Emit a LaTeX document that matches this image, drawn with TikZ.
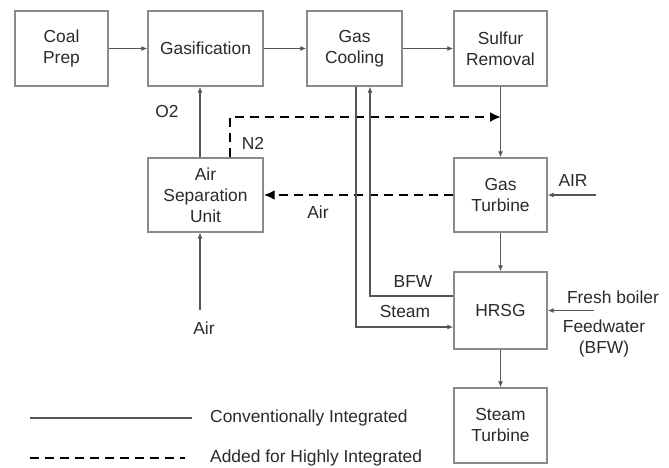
\documentclass[tikz,border=0pt]{standalone}
\usepackage{fontspec}
\setmainfont{Liberation Sans}
\usetikzlibrary{arrows.meta}
\definecolor{boxc}{HTML}{8A8A8A}
\definecolor{linec}{HTML}{555555}
\definecolor{txtc}{HTML}{2A2A2A}
\begin{document}
\begin{tikzpicture}[x=1pt,y=-1pt,
  font=\fontsize{17.4}{21}\selectfont, text=txtc,
  box/.style={draw=boxc, line width=1.4pt, align=center, inner sep=0pt, minimum width=93pt, minimum height=75pt},
  arr/.style={draw=linec, line width=1.1pt, -{Latex[length=6pt,width=5pt]}},
  plain/.style={draw=linec, line width=1.1pt},
  darr/.style={draw=black, line width=2.4pt, dash pattern=on 9pt off 6pt, -{Latex[length=11pt,width=10pt]}},
  dplain/.style={draw=black, line width=2.4pt, dash pattern=on 9pt off 6pt},
  lab/.style={inner sep=0pt}]
\useasboundingbox (0,0) rectangle (669,468);
\fill[white] (0,0) rectangle (669,468);

\node[box] (coal) at (61.5,48.5) {Coal\\Prep};
\node[box, minimum width=115pt] (gasif) at (205.5,48.5) {Gasification};
\node[box, minimum width=95pt] (cool) at (354.5,48.5) {Gas\\Cooling};
\node[box] (sulf) at (500.5,48.5) {Sulfur\\Removal};
\node[box, minimum width=115pt, minimum height=74pt] (asu) at (205.5,195) {Air\\Separation\\Unit};
\node[box, minimum height=74pt] (gt) at (500.5,195) {Gas\\Turbine};
\node[box, minimum height=77pt] (hrsg) at (500.5,310.5) {HRSG};
\node[box] (st) at (500.5,425.5) {Steam\\Turbine};

% top row
\draw[arr] (coal) -- (gasif);
\draw[arr] (gasif) -- (cool);
\draw[arr] (cool) -- (sulf);
% vertical chain
\draw[arr] (sulf) -- (gt);
\draw[arr] (gt) -- (hrsg);
\draw[arr] (hrsg) -- (st);
% ASU
\draw[arr] ([xshift=-5.5pt]asu.north) -- ([xshift=-5.5pt]gasif.south);
\node[lab] (o2) at (167,112) {O2};
\coordinate (airb) at (200,310);
\draw[arr] (airb) -- ([xshift=-5.5pt]asu.south);
\node[lab] (airbl) at (204,328) {Air};
% N2 dashed
\coordinate (n2end) at (501,117);
\draw[darr] ([xshift=24.5pt]asu.north) |- (n2end);
\node[lab] (n2) at (253,143) {N2};
% air to ASU dashed
\draw[darr] (gt.west) -- (asu.east);
\node[lab] (airl) at (318,212) {Air};
% AIR into GT
\coordinate (airin) at (596,195);
\draw[arr] (airin) -- (gt.east);
\node[lab] (airlab) at (573,181) {AIR};
% steam & BFW
\draw[arr] ([xshift=1.5pt]cool.south) |- ([yshift=-16.5pt]hrsg.west);
\draw[arr] ([yshift=14.5pt]hrsg.west) -| ([xshift=15.5pt]cool.south);
\node[lab] (bfw) at (413,282) {BFW};
\node[lab] (steam) at (405,312) {Steam};
% fresh boiler feedwater
\coordinate (fb) at (594,310.5);
\draw[arr] (fb) -- (hrsg.east);
\node[lab] (fb1) at (613,297) {Fresh boiler};
\node[lab, align=center] (fb2) at (604,338) {Feedwater\\(BFW)};
% legend
\coordinate (l1a) at (30,418);
\coordinate (l1b) at (192,418);
\draw[plain, line width=1.6pt] (l1a) -- (l1b);
\node[lab, anchor=west] (leg1) at (210,418) {Conventionally Integrated};
\coordinate (l2a) at (30,458);
\coordinate (l2b) at (185,458);
\draw[dplain] (l2a) -- (l2b);
\node[lab, anchor=west] (leg2) at (210,458) {Added for Highly Integrated};
\end{tikzpicture}
\end{document}
